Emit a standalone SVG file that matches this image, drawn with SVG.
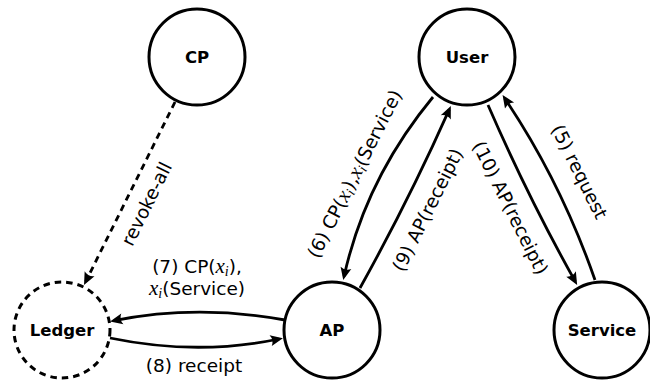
<svg xmlns="http://www.w3.org/2000/svg" width="650" height="383" viewBox="0 0 650 383">
<style>
.node{fill:#fff;stroke:#000;stroke-width:3}
.dash{stroke-dasharray:6.5 5}
.nl{font-family:"DejaVu Sans",sans-serif;font-weight:bold;font-size:16.5px;text-anchor:middle}
.lbl{font-family:"DejaVu Sans",sans-serif;font-size:18.5px;text-anchor:middle}
.m{font-family:"Liberation Serif",serif;font-style:italic;font-size:21px}
.s{font-family:"Liberation Serif",serif;font-style:italic;font-size:14px}
.e{fill:none;stroke:#000;stroke-width:2.8;marker-end:url(#ah)}
</style>
<defs>
<marker id="ah" markerUnits="userSpaceOnUse" orient="auto" refX="-4" refY="0" overflow="visible">
<path d="M0,0 L-12.5,-5.5 Q-9,0 -12.5,5.5 Z" fill="#000"/>
</marker>
</defs>
<g id="edges">
<path class="e" d="M175,102 L85.8,281.4" style="stroke-dasharray:6.5 5"/>
<path class="e" d="M433,97 Q366,178 344.1,276.2"/>
<path class="e" d="M360,288 Q409.5,199 449.2,109.6"/>
<path class="e" d="M488,105 Q528,197 575.2,281.4"/>
<path class="e" d="M595,280 Q561,182 504.8,98.4"/>
<path class="e" d="M285,320 Q197,304 114,320.6"/>
<path class="e" d="M110,338 Q197,356 279,339"/>
</g>
<g id="labels">
<text class="lbl" transform="translate(147,204) rotate(-63.7)" y="6">revoke-all</text>
<text class="lbl" transform="translate(355,174) rotate(-63)" y="6">(6) CP(<tspan class="m">x</tspan><tspan class="s" dy="3">i</tspan><tspan dy="-3">),</tspan><tspan class="m">x</tspan><tspan class="s" dy="3">i</tspan><tspan dy="-3">(Service)</tspan></text>
<text class="lbl" transform="translate(428,210) rotate(-63.5)" y="6">(9) AP(receipt)</text>
<text class="lbl" transform="translate(510,208) rotate(63.5)" y="6">(10) AP(receipt)</text>
<text class="lbl" transform="translate(579,172) rotate(63.5)" y="6">(5) request</text>
<text class="lbl" x="197" y="273">(7) CP(<tspan class="m">x</tspan><tspan class="s" dy="3">i</tspan><tspan dy="-3">),</tspan></text>
<text class="lbl" x="197" y="295"><tspan class="m">x</tspan><tspan class="s" dy="3">i</tspan><tspan dy="-3">(Service)</tspan></text>
<text class="lbl" x="194" y="372">(8) receipt</text>
</g>
<g id="CP"><circle class="node" cx="197" cy="57" r="48"/><text class="nl" x="197" y="63">CP</text></g>
<g id="User"><circle class="node" cx="467" cy="57" r="48"/><text class="nl" x="467" y="63">User</text></g>
<g id="Ledger"><circle class="node dash" cx="62" cy="330" r="48"/><text class="nl" x="62" y="336">Ledger</text></g>
<g id="AP"><circle class="node" cx="332" cy="330" r="48"/><text class="nl" x="332" y="336">AP</text></g>
<g id="Service"><circle class="node" cx="602" cy="330" r="48"/><text class="nl" x="602" y="336">Service</text></g>
</svg>
